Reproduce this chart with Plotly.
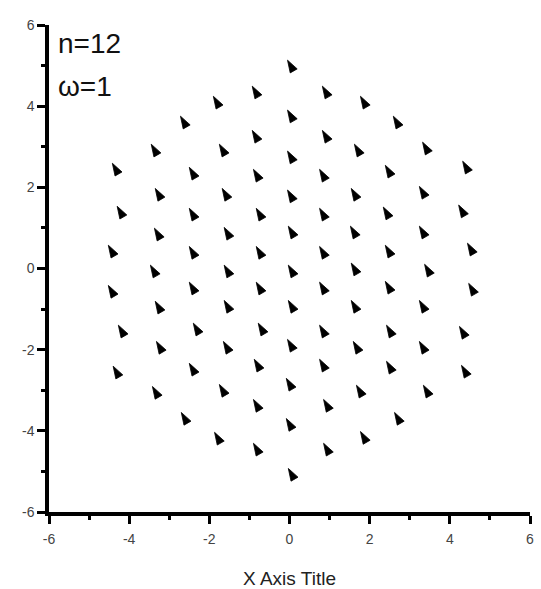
import math
import plotly.graph_objects as go

# Particle positions (n = 12, omega = 1), listed column by column
x_pos = [
    -4.33, -4.21, -4.43, -4.43, -4.18, -4.31,
    -3.36, -3.26, -3.28, -3.38, -3.26, -3.23, -3.33,
    -2.63, -2.41, -2.41, -2.41, -2.41, -2.31, -2.41, -2.61,
    -1.81, -1.66, -1.59, -1.54, -1.54, -1.54, -1.56, -1.66, -1.78,
    -0.84, -0.84, -0.81, -0.74, -0.74, -0.74, -0.69, -0.79, -0.81, -0.81,
    0.04, 0.04, 0.04, 0.04, 0.06, 0.06, 0.06, 0.04, 0.01, 0.01, 0.06,
    0.91, 0.91, 0.84, 0.84, 0.84, 0.84, 0.84, 0.84, 0.94, 0.94,
    1.86, 1.71, 1.63, 1.61, 1.63, 1.63, 1.68, 1.76, 1.86,
    2.68, 2.48, 2.43, 2.48, 2.48, 2.51, 2.51, 2.71,
    3.41, 3.33, 3.33, 3.46, 3.33, 3.33, 3.43,
    4.41, 4.31, 4.53, 4.56, 4.33, 4.38,
]
y_pos = [
    2.44, 1.38, 0.42, -0.57, -1.55, -2.56,
    2.91, 1.82, 0.84, -0.07, -0.96, -1.95, -3.06,
    3.60, 2.34, 1.33, 0.39, -0.49, -1.50, -2.49, -3.70,
    4.09, 2.91, 1.82, 0.86, -0.07, -0.94, -1.95, -3.01, -4.19,
    4.34, 3.25, 2.29, 1.33, 0.39, -0.49, -1.50, -2.39, -3.38, -4.46,
    4.98, 3.75, 2.74, 1.78, 0.89, -0.07, -0.94, -1.90, -2.86, -3.85, -5.08,
    4.34, 3.25, 2.29, 1.33, 0.39, -0.49, -1.55, -2.39, -3.38, -4.46,
    4.09, 2.91, 1.82, 0.89, -0.02, -0.94, -1.95, -3.03, -4.17,
    3.60, 2.39, 1.36, 0.42, -0.47, -1.55, -2.44, -3.70,
    2.96, 1.87, 0.89, -0.05, -0.94, -1.95, -3.03,
    2.49, 1.41, 0.47, -0.52, -1.58, -2.54,
]

tick_vals = [-6, -4, -2, 0, 2, 4, 6]
tick_text = ["-6", "-4", "-2", "0", "2", "4", "6"]
x_title = "X Axis Title"
labels = ["n=12", "ω=1"]

font_family = "Arial, Liberation Sans, sans-serif"

# Figure / plot-area geometry
W, H = 541, 589
M_L, M_R, M_T, M_B = 49, 11, 25, 77
AX_MIN, AX_MAX = -6, 6
px_per_x = (W - M_L - M_R) / (AX_MAX - AX_MIN)
px_per_y = (H - M_T - M_B) / (AX_MAX - AX_MIN)

# The "arrow" symbol is anchored at its tip and its body trails behind it.
# Move the anchor back along the pointing direction so that the body of
# each cone is centred on the particle position.
MARKER_SIZE = 13
MARKER_ANGLE = -30          # tip tilted towards the upper left
body_len = 0.92 * MARKER_SIZE
centre_shift = 0.6 * body_len
dir_x = -math.sin(math.radians(-MARKER_ANGLE))   # screen x of tip direction
dir_y = math.cos(math.radians(-MARKER_ANGLE))    # data-up component of tip direction
x_tip = [x + centre_shift * dir_x / px_per_x for x in x_pos]
y_tip = [y + centre_shift * dir_y / px_per_y for y in y_pos]

fig = go.Figure()
fig.add_trace(go.Scatter(
    x=x_tip, y=y_tip, mode="markers",
    customdata=list(zip(x_pos, y_pos)),
    hovertemplate="x=%{customdata[0]}<br>y=%{customdata[1]}<extra></extra>",
    marker=dict(symbol="arrow", size=MARKER_SIZE, angle=MARKER_ANGLE,
                color="black", line=dict(width=0.8, color="black")),
    showlegend=False,
))

axis_common = dict(
    range=[AX_MIN, AX_MAX], tickmode="array", tickvals=tick_vals, ticktext=tick_text,
    showline=True, linecolor="black", linewidth=3.5, mirror=False,
    ticks="outside", ticklen=8, tickwidth=2.5, tickcolor="black",
    minor=dict(dtick=1, tick0=-6, ticks="outside", ticklen=4, tickwidth=2.5,
               tickcolor="black", showgrid=False),
    showgrid=False, zeroline=False, automargin=False,
    tickfont=dict(family=font_family, size=14, color="#444444"),
)

fig.update_xaxes(
    **axis_common,
    ticklabelstandoff=3,
    title=dict(text=x_title, font=dict(family=font_family, size=19, color="#222222"),
               standoff=30),
)
fig.update_yaxes(**axis_common, ticklabelstandoff=0)

for i, txt in enumerate(labels):
    fig.add_annotation(
        text=txt, xref="paper", yref="paper",
        x=0.014, y=[0.961, 0.873][i], xanchor="left", yanchor="middle",
        showarrow=False, font=dict(family=font_family, size=28, color="#111111"),
    )

fig.update_layout(
    width=W, height=H,
    margin=dict(l=M_L, r=M_R, t=M_T, b=M_B, autoexpand=False),
    paper_bgcolor="white", plot_bgcolor="white",
)

fig.write_html("out.html")
